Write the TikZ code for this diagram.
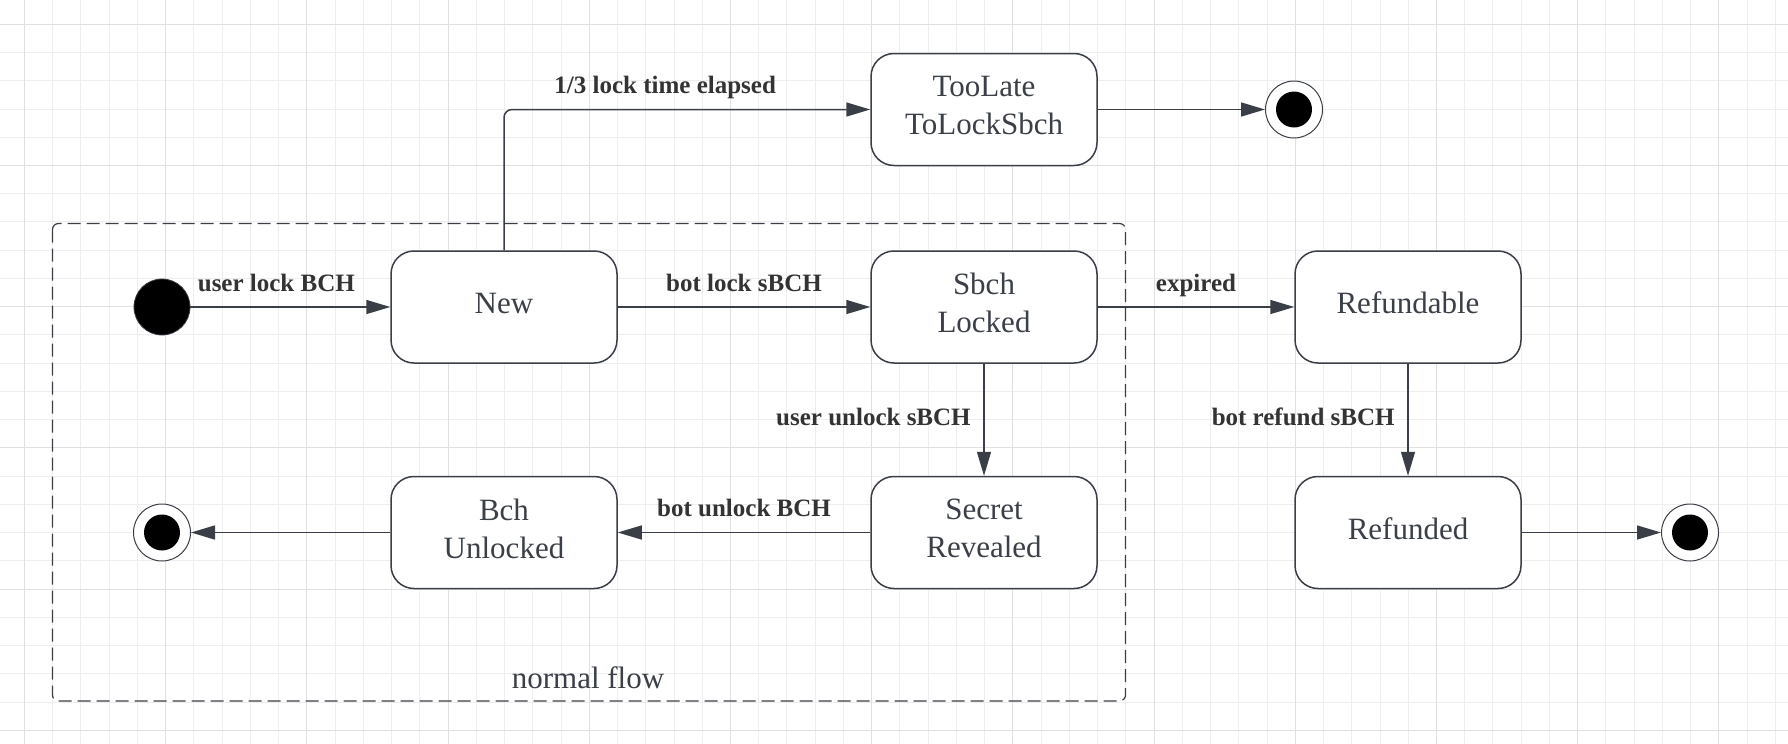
\documentclass[tikz,border=0pt]{standalone}
\usepackage{fontspec}
\setmainfont{Liberation Serif}
\usetikzlibrary{arrows.meta,positioning}
\definecolor{inkline}{HTML}{3A3F47}
\definecolor{inktext}{HTML}{3B4048}
\definecolor{gridminor}{HTML}{EEEEEE}
\definecolor{gridmajor}{HTML}{E0E0E0}
\tikzset{
  statebox/.style={draw=inkline, line width=0.75pt, fill=white, rounded corners=11.5pt,
    minimum width=113pt, minimum height=56pt, align=center, text=inktext,
    font=\fontsize{15.5}{19}\selectfont, execute at end node={\rule[-4pt]{0pt}{4pt}}},
  initst/.style={circle, fill=black, draw=inkline, minimum size=28pt, inner sep=0pt},
  finalst/.style={circle, draw=inkline, line width=0.5pt, fill=white, minimum size=28.5pt, inner sep=0pt,
    path picture={\fill[black] (path picture bounding box.center) circle (9pt);}},
  trans/.style={draw=inkline, line width=0.75pt, -{Triangle[length=12pt,width=7pt]}},
  lbl/.style={font=\fontsize{12.5}{15}\bfseries, text=black!80, inner sep=3pt, text depth=0pt}
}

\begin{document}
\begin{tikzpicture}[x=0.5pt, y=-0.5pt]
  \useasboundingbox (0,0) rectangle (1788,744);
  \fill[white] (0,0) rectangle (1788,744);
  % background grid
  \foreach \k in {-1,...,62}
    \draw[gridminor, line width=0.5pt] ({24.5+28.24*\k},0) -- ({24.5+28.24*\k},744);
  \foreach \k in {-1,...,25}
    \draw[gridminor, line width=0.5pt] (0,{24.3+28.24*\k}) -- (1788,{24.3+28.24*\k});
  \foreach \k in {0,5,...,60}
    \draw[gridmajor, line width=0.5pt] ({24.5+28.24*\k},0) -- ({24.5+28.24*\k},744);
  \foreach \k in {0,5,...,25}
    \draw[gridmajor, line width=0.5pt] (0,{24.3+28.24*\k}) -- (1788,{24.3+28.24*\k});

  % normal flow frame
  \draw[inkline, line width=0.6pt, dash pattern=on 6.5pt off 3pt, rounded corners=3pt]
    (52.5,223.5) rectangle (1125.5,701);
  \node[text=inktext, font=\fontsize{15.5}{19}\selectfont] (flowlbl) at (588,678) {normal flow};

  % states
  \node[initst] (init) at (162,307) {};
  \node[statebox] (new) at (504,307) {New};
  \node[statebox] (locked) at (984,307) {Sbch\\Locked};
  \node[statebox] (toolate) at (984,109.5) {TooLate\\ToLockSbch};
  \node[statebox] (refundable) at (1408,307) {Refundable};
  \node[statebox] (revealed) at (984,532.5) {Secret\\Revealed};
  \node[statebox] (unlocked) at (504,532.5) {Bch\\Unlocked};
  \node[statebox] (refunded) at (1408,532.5) {Refunded};
  \node[finalst] (endlate) at (1294,109.5) {};
  \node[finalst] (endok) at (162,532.5) {};
  \node[finalst] (endref) at (1690,532.5) {};

  % transitions
  \draw[trans] (init) -- node[lbl, above=4.5pt, pos=0.43] {user lock BCH} (new);
  \draw[trans] (new) -- node[lbl, above=4.5pt] {bot lock sBCH} (locked);
  \draw[trans, rounded corners=4pt] (new.north) |- node[lbl, above=4.5pt, pos=0.72] {1/3 lock time elapsed} (toolate.west);
  \draw[trans] (toolate) -- (endlate);
  \draw[trans] (locked) -- node[lbl, above=4.5pt] {expired} (refundable);
  \draw[trans] (locked) -- node[lbl, left=3.3pt, yshift=1.5pt] {user unlock sBCH} (revealed);
  \draw[trans] (refundable) -- node[lbl, left=3.3pt, yshift=1.5pt] {bot refund sBCH} (refunded);
  \draw[trans] (revealed) -- node[lbl, above=4.5pt] {bot unlock BCH} (unlocked);
  \draw[trans] (unlocked) -- (endok);
  \draw[trans] (refunded) -- (endref);
\end{tikzpicture}
\end{document}
